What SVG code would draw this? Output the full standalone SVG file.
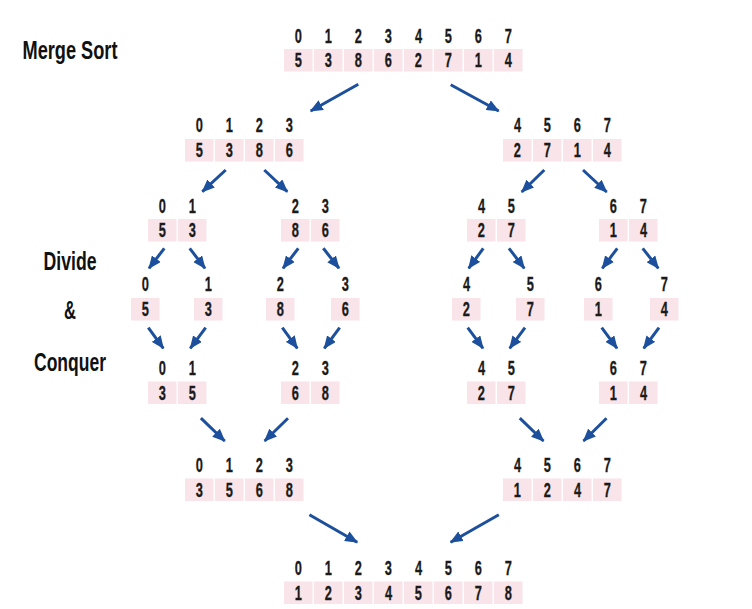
<svg xmlns="http://www.w3.org/2000/svg" width="752" height="609" viewBox="0 0 752 609">
<style>
.c{fill:#f8e4e9}
.d{font-family:"Liberation Sans",Arial,sans-serif;font-size:20px;font-weight:bold;text-anchor:middle;fill:#1a1a1a;stroke:#1a1a1a;stroke-width:0.3;transform:scaleX(0.64);transform-box:fill-box;transform-origin:center}
.t{font-family:"Liberation Sans",Arial,sans-serif;font-size:25px;font-weight:bold;text-anchor:middle;fill:#111}
.a{stroke:#1c4f9c;stroke-width:3;fill:none;marker-end:url(#ah)}
</style>
<defs>
<marker id="ah" markerUnits="userSpaceOnUse" markerWidth="13" markerHeight="11" viewBox="0 0 13 11" refX="12" refY="5.5" orient="auto">
<path d="M0,0 L13,5.5 L0,11 z" fill="#1c4f9c"/>
</marker>
</defs>
<rect width="752" height="609" fill="#fff"/>

<g id="labels">
<text class="t" x="70" y="59.3" textLength="95" lengthAdjust="spacingAndGlyphs">Merge Sort</text>
<text class="t" x="70" y="270" textLength="53" lengthAdjust="spacingAndGlyphs">Divide</text>
<text class="t" x="70" y="319" textLength="12" lengthAdjust="spacingAndGlyphs">&amp;</text>
<text class="t" x="70" y="371" textLength="72" lengthAdjust="spacingAndGlyphs">Conquer</text>
</g>

<g id="connectors">
<line class="a" x1="358.3" y1="84.3" x2="310.7" y2="111"/>
<line class="a" x1="450.7" y1="84.7" x2="498.7" y2="111"/>
<line class="a" x1="225.7" y1="170" x2="202.3" y2="191.7"/>
<line class="a" x1="264.3" y1="170" x2="287.3" y2="191.7"/>
<line class="a" x1="544.3" y1="170" x2="521.7" y2="192"/>
<line class="a" x1="583" y1="170" x2="606.7" y2="192"/>
<line class="a" x1="164.3" y1="248.3" x2="149" y2="268.3"/>
<line class="a" x1="189.7" y1="248.3" x2="205" y2="268.3"/>
<line class="a" x1="298.3" y1="248.3" x2="283" y2="268.3"/>
<line class="a" x1="323.3" y1="248.3" x2="339" y2="268.3"/>
<line class="a" x1="483.3" y1="248.3" x2="468.7" y2="268.3"/>
<line class="a" x1="509" y1="248.3" x2="524.3" y2="268.3"/>
<line class="a" x1="617.3" y1="248.3" x2="602.3" y2="268.3"/>
<line class="a" x1="642.7" y1="248.3" x2="658.3" y2="268.3"/>
<line class="a" x1="148.3" y1="327.7" x2="163.3" y2="348.3"/>
<line class="a" x1="205.7" y1="327.7" x2="190.3" y2="348.3"/>
<line class="a" x1="282.3" y1="327.7" x2="297.3" y2="348.3"/>
<line class="a" x1="339.7" y1="327.7" x2="324.3" y2="348.3"/>
<line class="a" x1="467.7" y1="327.7" x2="483" y2="348.3"/>
<line class="a" x1="525" y1="327.7" x2="509.7" y2="348.3"/>
<line class="a" x1="601.7" y1="327.7" x2="617" y2="348.3"/>
<line class="a" x1="659" y1="327.7" x2="643.7" y2="348.3"/>
<line class="a" x1="200.9" y1="418.2" x2="224.7" y2="441"/>
<line class="a" x1="288" y1="418.2" x2="264.6" y2="441"/>
<line class="a" x1="519.8" y1="418.2" x2="543.5" y2="441"/>
<line class="a" x1="606.5" y1="418.2" x2="583.5" y2="441"/>
<line class="a" x1="309.4" y1="514.7" x2="357.2" y2="542.2"/>
<line class="a" x1="498.8" y1="514.7" x2="450.6" y2="542.2"/>
</g>

<g id="arr-0-7">
<rect class="c" x="284" y="49" width="28.5" height="22.5"/><rect class="c" x="314" y="49" width="28.5" height="22.5"/><rect class="c" x="344" y="49" width="28.5" height="22.5"/><rect class="c" x="374" y="49" width="28.5" height="22.5"/><rect class="c" x="404" y="49" width="28.5" height="22.5"/><rect class="c" x="434" y="49" width="28.5" height="22.5"/><rect class="c" x="464" y="49" width="28.5" height="22.5"/><rect class="c" x="494" y="49" width="28.5" height="22.5"/>
<text class="d" x="298.3" y="43.3">0</text><text class="d" x="328.3" y="43.3">1</text><text class="d" x="358.3" y="43.3">2</text><text class="d" x="388.3" y="43.3">3</text><text class="d" x="418.3" y="43.3">4</text><text class="d" x="448.3" y="43.3">5</text><text class="d" x="478.3" y="43.3">6</text><text class="d" x="508.3" y="43.3">7</text>
<text class="d" x="298.3" y="67.5">5</text><text class="d" x="328.3" y="67.5">3</text><text class="d" x="358.3" y="67.5">8</text><text class="d" x="388.3" y="67.5">6</text><text class="d" x="418.3" y="67.5">2</text><text class="d" x="448.3" y="67.5">7</text><text class="d" x="478.3" y="67.5">1</text><text class="d" x="508.3" y="67.5">4</text>
</g>

<g id="arr-0-3">
<rect class="c" x="185" y="139" width="28.5" height="22.5"/><rect class="c" x="215" y="139" width="28.5" height="22.5"/><rect class="c" x="245" y="139" width="28.5" height="22.5"/><rect class="c" x="275" y="139" width="28.5" height="22.5"/>
<text class="d" x="199.3" y="132">0</text><text class="d" x="229.3" y="132">1</text><text class="d" x="259.3" y="132">2</text><text class="d" x="289.3" y="132">3</text>
<text class="d" x="199.3" y="157.3">5</text><text class="d" x="229.3" y="157.3">3</text><text class="d" x="259.3" y="157.3">8</text><text class="d" x="289.3" y="157.3">6</text>
</g>

<g id="arr-4-7">
<rect class="c" x="503" y="139" width="28.5" height="22.5"/><rect class="c" x="533" y="139" width="28.5" height="22.5"/><rect class="c" x="563" y="139" width="28.5" height="22.5"/><rect class="c" x="593" y="139" width="28.5" height="22.5"/>
<text class="d" x="517.3" y="132">4</text><text class="d" x="547.3" y="132">5</text><text class="d" x="577.3" y="132">6</text><text class="d" x="607.3" y="132">7</text>
<text class="d" x="517.3" y="157.3">2</text><text class="d" x="547.3" y="157.3">7</text><text class="d" x="577.3" y="157.3">1</text><text class="d" x="607.3" y="157.3">4</text>
</g>

<g id="div-0-1">
<rect class="c" x="148" y="219" width="28.5" height="22.5"/><rect class="c" x="178" y="219" width="28.5" height="22.5"/>
<text class="d" x="162.3" y="213.3">0</text><text class="d" x="192.3" y="213.3">1</text>
<text class="d" x="162.3" y="237.5">5</text><text class="d" x="192.3" y="237.5">3</text>
</g>
<g id="div-2-3">
<rect class="c" x="281" y="219" width="28.5" height="22.5"/><rect class="c" x="311" y="219" width="28.5" height="22.5"/>
<text class="d" x="295.3" y="213.3">2</text><text class="d" x="325.3" y="213.3">3</text>
<text class="d" x="295.3" y="237.5">8</text><text class="d" x="325.3" y="237.5">6</text>
</g>
<g id="div-4-5">
<rect class="c" x="467" y="219" width="28.5" height="22.5"/><rect class="c" x="497" y="219" width="28.5" height="22.5"/>
<text class="d" x="481.3" y="213.3">4</text><text class="d" x="511.3" y="213.3">5</text>
<text class="d" x="481.3" y="237.5">2</text><text class="d" x="511.3" y="237.5">7</text>
</g>
<g id="div-6-7">
<rect class="c" x="599" y="219" width="28.5" height="22.5"/><rect class="c" x="629" y="219" width="28.5" height="22.5"/>
<text class="d" x="613.3" y="213.3">6</text><text class="d" x="643.3" y="213.3">7</text>
<text class="d" x="613.3" y="237.5">1</text><text class="d" x="643.3" y="237.5">4</text>
</g>

<g id="single-0"><rect class="c" x="131" y="298" width="28.5" height="22.5"/><text class="d" x="145.3" y="291">0</text><text class="d" x="145.3" y="316.5">5</text></g>
<g id="single-1"><rect class="c" x="194" y="298" width="28.5" height="22.5"/><text class="d" x="208.3" y="291">1</text><text class="d" x="208.3" y="316.5">3</text></g>
<g id="single-2"><rect class="c" x="266" y="298" width="28.5" height="22.5"/><text class="d" x="280.3" y="291">2</text><text class="d" x="280.3" y="316.5">8</text></g>
<g id="single-3"><rect class="c" x="331" y="298" width="28.5" height="22.5"/><text class="d" x="345.3" y="291">3</text><text class="d" x="345.3" y="316.5">6</text></g>
<g id="single-4"><rect class="c" x="452" y="298" width="28.5" height="22.5"/><text class="d" x="466.3" y="291">4</text><text class="d" x="466.3" y="316.5">2</text></g>
<g id="single-5"><rect class="c" x="516" y="298" width="28.5" height="22.5"/><text class="d" x="530.3" y="291">5</text><text class="d" x="530.3" y="316.5">7</text></g>
<g id="single-6"><rect class="c" x="584" y="298" width="28.5" height="22.5"/><text class="d" x="598.3" y="291">6</text><text class="d" x="598.3" y="316.5">1</text></g>
<g id="single-7"><rect class="c" x="650" y="298" width="28.5" height="22.5"/><text class="d" x="664.3" y="291">7</text><text class="d" x="664.3" y="316.5">4</text></g>

<g id="merge-0-1">
<rect class="c" x="148" y="381.5" width="28.5" height="22.5"/><rect class="c" x="178" y="381.5" width="28.5" height="22.5"/>
<text class="d" x="162.3" y="375">0</text><text class="d" x="192.3" y="375">1</text>
<text class="d" x="162.3" y="400">3</text><text class="d" x="192.3" y="400">5</text>
</g>
<g id="merge-2-3">
<rect class="c" x="281" y="381.5" width="28.5" height="22.5"/><rect class="c" x="311" y="381.5" width="28.5" height="22.5"/>
<text class="d" x="295.3" y="375">2</text><text class="d" x="325.3" y="375">3</text>
<text class="d" x="295.3" y="400">6</text><text class="d" x="325.3" y="400">8</text>
</g>
<g id="merge-4-5">
<rect class="c" x="467" y="381.5" width="28.5" height="22.5"/><rect class="c" x="497" y="381.5" width="28.5" height="22.5"/>
<text class="d" x="481.3" y="375">4</text><text class="d" x="511.3" y="375">5</text>
<text class="d" x="481.3" y="400">2</text><text class="d" x="511.3" y="400">7</text>
</g>
<g id="merge-6-7">
<rect class="c" x="599" y="381.5" width="28.5" height="22.5"/><rect class="c" x="629" y="381.5" width="28.5" height="22.5"/>
<text class="d" x="613.3" y="375">6</text><text class="d" x="643.3" y="375">7</text>
<text class="d" x="613.3" y="400">1</text><text class="d" x="643.3" y="400">4</text>
</g>

<g id="merge-0-3">
<rect class="c" x="185" y="478.5" width="28.5" height="22.5"/><rect class="c" x="215" y="478.5" width="28.5" height="22.5"/><rect class="c" x="245" y="478.5" width="28.5" height="22.5"/><rect class="c" x="275" y="478.5" width="28.5" height="22.5"/>
<text class="d" x="199.3" y="471.8">0</text><text class="d" x="229.3" y="471.8">1</text><text class="d" x="259.3" y="471.8">2</text><text class="d" x="289.3" y="471.8">3</text>
<text class="d" x="199.3" y="497">3</text><text class="d" x="229.3" y="497">5</text><text class="d" x="259.3" y="497">6</text><text class="d" x="289.3" y="497">8</text>
</g>
<g id="merge-4-7">
<rect class="c" x="503" y="478.5" width="28.5" height="22.5"/><rect class="c" x="533" y="478.5" width="28.5" height="22.5"/><rect class="c" x="563" y="478.5" width="28.5" height="22.5"/><rect class="c" x="593" y="478.5" width="28.5" height="22.5"/>
<text class="d" x="517.3" y="471.8">4</text><text class="d" x="547.3" y="471.8">5</text><text class="d" x="577.3" y="471.8">6</text><text class="d" x="607.3" y="471.8">7</text>
<text class="d" x="517.3" y="497">1</text><text class="d" x="547.3" y="497">2</text><text class="d" x="577.3" y="497">4</text><text class="d" x="607.3" y="497">7</text>
</g>

<g id="sorted-0-7">
<rect class="c" x="284" y="581.5" width="28.5" height="22.5"/><rect class="c" x="314" y="581.5" width="28.5" height="22.5"/><rect class="c" x="344" y="581.5" width="28.5" height="22.5"/><rect class="c" x="374" y="581.5" width="28.5" height="22.5"/><rect class="c" x="404" y="581.5" width="28.5" height="22.5"/><rect class="c" x="434" y="581.5" width="28.5" height="22.5"/><rect class="c" x="464" y="581.5" width="28.5" height="22.5"/><rect class="c" x="494" y="581.5" width="28.5" height="22.5"/>
<text class="d" x="298.3" y="575.5">0</text><text class="d" x="328.3" y="575.5">1</text><text class="d" x="358.3" y="575.5">2</text><text class="d" x="388.3" y="575.5">3</text><text class="d" x="418.3" y="575.5">4</text><text class="d" x="448.3" y="575.5">5</text><text class="d" x="478.3" y="575.5">6</text><text class="d" x="508.3" y="575.5">7</text>
<text class="d" x="298.3" y="600">1</text><text class="d" x="328.3" y="600">2</text><text class="d" x="358.3" y="600">3</text><text class="d" x="388.3" y="600">4</text><text class="d" x="418.3" y="600">5</text><text class="d" x="448.3" y="600">6</text><text class="d" x="478.3" y="600">7</text><text class="d" x="508.3" y="600">8</text>
</g>
</svg>
